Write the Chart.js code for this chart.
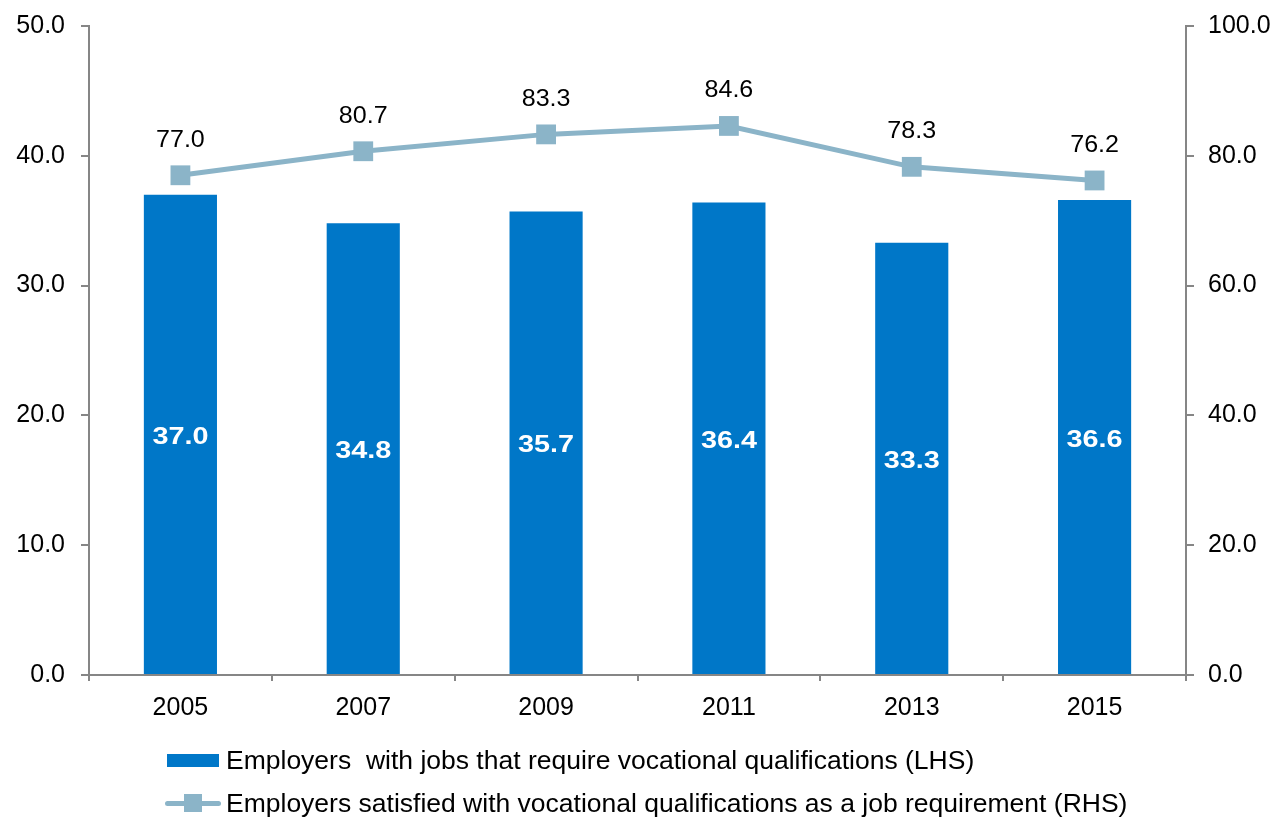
<!DOCTYPE html>
<html>
<head>
<meta charset="utf-8">
<script src="https://cdn.jsdelivr.net/npm/chart.js@4"></script>
<style>
  html, body { margin: 0; padding: 0; background: #fff; }
  #wrap { position: relative; width: 1277px; height: 819px; font-family: "Liberation Sans", Arial, sans-serif; }
  #chart { position: absolute; left: 0; top: 0; }
  .legend-row { position: absolute; left: 165px; height: 30px; display: flex; align-items: center; font-size: 26.5px; color: #000; white-space: nowrap; }
  .swatch-bar { width: 52px; height: 13px; background: #0077C8; margin-left: 2px; margin-right: 7px; }
  .swatch-line { position: relative; width: 56px; height: 20px; margin-right: 5px; }
  .swatch-line .ln { position: absolute; left: 0; right: 0; top: 8px; height: 5px; border-radius: 3px; background: #8BB4C8; }
  .swatch-line .sq { position: absolute; left: 19px; top: 1px; width: 18px; height: 18px; background: #8BB4C8; }
</style>
</head>
<body>
<div id="wrap">
  <canvas id="chart" width="1277" height="819"></canvas>
  <div class="legend-row" style="top:745px"><div class="swatch-bar"></div><span>Employers&nbsp; with jobs that require vocational qualifications (LHS)</span></div>
  <div class="legend-row" style="top:788px"><div class="swatch-line"><div class="ln"></div><div class="sq"></div></div><span>Employers satisfied with vocational qualifications as a job requirement (RHS)</span></div>
</div>
<script>
const years = ['2005', '2007', '2009', '2011', '2013', '2015'];
const requireQuals = [37.0, 34.8, 35.7, 36.4, 33.3, 36.6];
const satisfiedQuals = [77.0, 80.7, 83.3, 84.6, 78.3, 76.2];

const barColor = '#0077C8';
const lineColor = '#8BB4C8';
const axisGray = '#868686';
const fontFamily = '"Liberation Sans", Arial, sans-serif';

// draw text a bit wider than the font's natural width
function wideText(ctx, text, x, y, sx) {
  ctx.save();
  ctx.translate(x, y);
  ctx.scale(sx, 1);
  ctx.fillText(text, 0, 0);
  ctx.restore();
}

// value labels: white bold in the middle of bars, black above line points
const valueLabels = {
  id: 'valueLabels',
  afterDatasetsDraw(chart) {
    const ctx = chart.ctx;
    ctx.save();
    ctx.textAlign = 'center';
    ctx.textBaseline = 'middle';

    ctx.font = 'bold 24px ' + fontFamily;
    ctx.fillStyle = '#ffffff';
    chart.getDatasetMeta(0).data.forEach((bar, i) => {
      wideText(ctx, requireQuals[i].toFixed(1), bar.x, (bar.y + bar.base) / 2 + 3, 1.2);
    });

    ctx.font = '23px ' + fontFamily;
    ctx.fillStyle = '#000000';
    chart.getDatasetMeta(1).data.forEach((pt, i) => {
      wideText(ctx, satisfiedQuals[i].toFixed(1), pt.x, pt.y - 35, 1.09);
    });
    ctx.restore();
  }
};

const tickFont = { family: fontFamily, size: 25 };

// fixed axis box sizes so the plot area lands at the same place every time
function fixWidth(w) {
  return s => { s.width = w; s.paddingTop = 0; s.paddingBottom = 0; };
}

new Chart(document.getElementById('chart'), {
  type: 'bar',
  data: {
    labels: years,
    datasets: [
      {
        type: 'bar',
        label: 'Employers  with jobs that require vocational qualifications (LHS)',
        data: requireQuals,
        backgroundColor: barColor,
        yAxisID: 'y',
        categoryPercentage: 1,
        barPercentage: 0.4,
        order: 1
      },
      {
        type: 'line',
        label: 'Employers satisfied with vocational qualifications as a job requirement (RHS)',
        data: satisfiedQuals,
        borderColor: lineColor,
        backgroundColor: lineColor,
        borderWidth: 5,
        pointStyle: 'rect',
        pointRadius: 14,
        pointHoverRadius: 14,
        pointBorderWidth: 0,
        tension: 0,
        yAxisID: 'y1',
        order: 0
      }
    ]
  },
  options: {
    responsive: false,
    animation: false,
    layout: { padding: { top: 26, bottom: 84, left: 0, right: 0 } },
    plugins: {
      legend: { display: false },
      tooltip: { enabled: false }
    },
    scales: {
      x: {
        afterFit: s => { s.height = 60; s.paddingLeft = 0; s.paddingRight = 0; },
        grid: { drawOnChartArea: false, color: axisGray, lineWidth: 2, tickLength: 6, offset: true },
        border: { color: axisGray, width: 2 },
        ticks: { color: '#000', font: tickFont, padding: 12 }
      },
      y: {
        position: 'left',
        min: 0,
        max: 50,
        afterFit: fixWidth(89),
        grid: { drawOnChartArea: false, color: axisGray, lineWidth: 2, tickLength: 8 },
        border: { color: axisGray, width: 2 },
        ticks: { stepSize: 10, color: '#000', font: tickFont, padding: 16, callback: v => v.toFixed(1) }
      },
      y1: {
        position: 'right',
        min: 0,
        max: 100,
        afterFit: fixWidth(91),
        grid: { drawOnChartArea: false, color: axisGray, lineWidth: 2, tickLength: 8 },
        border: { color: axisGray, width: 2 },
        ticks: { stepSize: 20, color: '#000', font: tickFont, padding: 14, callback: v => v.toFixed(1) }
      }
    }
  },
  plugins: [valueLabels]
});
</script>
</body>
</html>
